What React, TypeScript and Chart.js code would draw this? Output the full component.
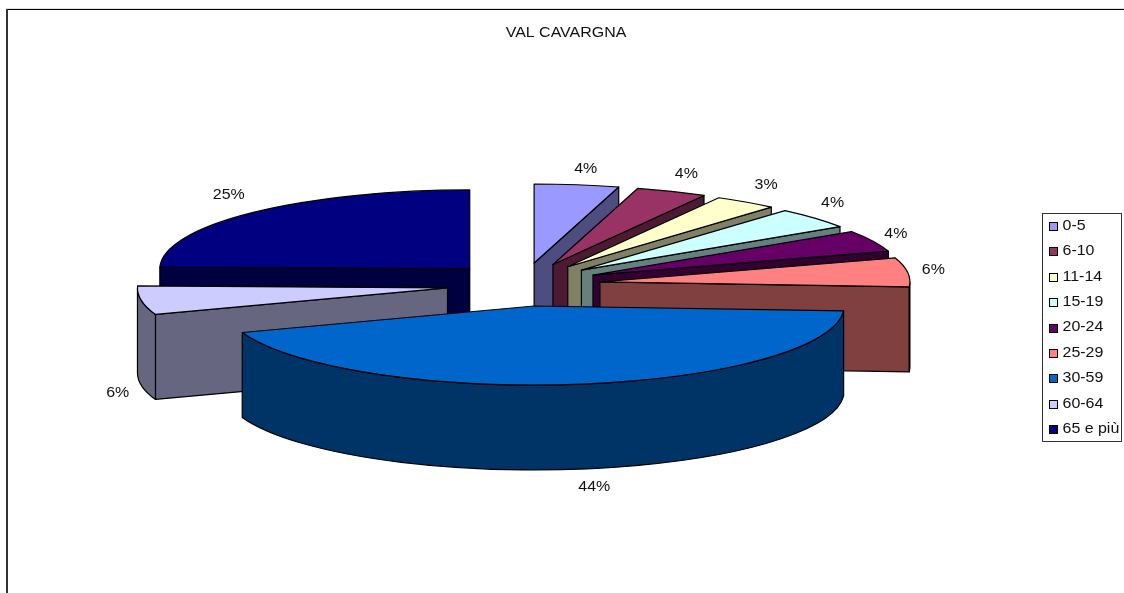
import React, { useEffect, useRef } from "react";
import { Chart, registerables } from "chart.js";

Chart.register(...registerables);

const TITLE = "VAL CAVARGNA";
const categories = ["0-5", "6-10", "11-14", "15-19", "20-24", "25-29", "30-59", "60-64", "65 e più"];
const shares = [4.4, 3.7, 3.3, 4.3, 4.4, 5.9, 43.55, 5.85, 24.6];
const colors = ["#9999FF", "#993366", "#FFFFCC", "#CCFFFF", "#660066", "#FF8080", "#0066CC", "#CCCCFF", "#000080"];

const FONT = '14px "Liberation Sans", Arial, sans-serif';
const STRETCH = 1.14;
const RADIUS = 310;
const TILT = 79 / 310;
const DEPTH = 85;
const EXPLODE_X = 77;
const EXPLODE_Y = 21.7;
// fine placement of each percentage label around its slice
const LABEL_NUDGE = [[5, 2], [4, -1], [4, -2], [-3, -3], [-2, 1], [-2, 0], [13, 0], [4, 5], [-5, -4]];

const halfShade = (hex: string) => {
  const n = parseInt(hex.slice(1), 16);
  const c = [(n >> 16) & 255, (n >> 8) & 255, n & 255].map((v) => Math.round(v / 2));
  return `rgb(${c[0]},${c[1]},${c[2]})`;
};

const stretchedText = (ctx: CanvasRenderingContext2D, text: string, x: number, y: number, align: CanvasTextAlign) => {
  ctx.save();
  ctx.font = FONT;
  ctx.fillStyle = "#111";
  ctx.textAlign = align;
  ctx.textBaseline = "middle";
  ctx.translate(x, y);
  ctx.scale(STRETCH, 1);
  ctx.fillText(text, 0, 0);
  ctx.restore();
};

const pie3d = {
  id: "pie3d",
  beforeDatasetsDraw(chart: any) {
    const ctx: CanvasRenderingContext2D = chart.ctx;
    const arcs = chart.getDatasetMeta(0).data as any[];
    const total = shares.reduce((s, v) => s + v, 0);

    const slices = arcs.map((arc, i) => {
      const mid = (arc.startAngle + arc.endAngle) / 2;
      const a = arc.outerRadius;
      return {
        i,
        mid,
        a,
        b: a * TILT,
        start: arc.startAngle,
        end: arc.endAngle,
        x: arc.x + Math.cos(mid) * EXPLODE_X,
        y: arc.y + Math.sin(mid) * EXPLODE_Y,
      };
    });

    const order = [...slices].sort((p, q) => p.y - q.y);
    ctx.save();
    ctx.lineWidth = 1.2;
    ctx.strokeStyle = "#000";
    ctx.lineJoin = "round";

    for (const s of order) {
      const dark = halfShade(colors[s.i]);
      const radial = (ang: number) => {
        const px = s.x + s.a * Math.cos(ang);
        const py = s.y + s.b * Math.sin(ang);
        ctx.beginPath();
        ctx.moveTo(s.x, s.y);
        ctx.lineTo(px, py);
        ctx.lineTo(px, py + DEPTH);
        ctx.lineTo(s.x, s.y + DEPTH);
        ctx.closePath();
        ctx.fillStyle = dark;
        ctx.fill();
        ctx.stroke();
      };
      if (Math.cos(s.start) < 0) radial(s.start);
      if (Math.cos(s.end) > 0) radial(s.end);

      // outer wall: only the part of the rim that faces the viewer
      const bands: [number, number][] = [];
      for (let k = -1; k <= 1; k++) {
        const lo = Math.max(s.start, k * 2 * Math.PI);
        const hi = Math.min(s.end, k * 2 * Math.PI + Math.PI);
        if (hi > lo) bands.push([lo, hi]);
      }
      for (const [lo, hi] of bands) {
        ctx.beginPath();
        ctx.ellipse(s.x, s.y, s.a, s.b, 0, lo, hi);
        ctx.ellipse(s.x, s.y + DEPTH, s.a, s.b, 0, hi, lo, true);
        ctx.closePath();
        ctx.fillStyle = dark;
        ctx.fill();
        ctx.stroke();
      }

      ctx.beginPath();
      ctx.moveTo(s.x, s.y);
      ctx.ellipse(s.x, s.y, s.a, s.b, 0, s.start, s.end);
      ctx.closePath();
      ctx.fillStyle = colors[s.i];
      ctx.fill();
      ctx.stroke();
    }
    ctx.restore();

    // percentage labels
    for (const s of slices) {
      const lx = s.x + (s.a + 28) * Math.cos(s.mid) + LABEL_NUDGE[s.i][0];
      const ly = s.y + (s.b + 18) * Math.sin(s.mid) + (Math.sin(s.mid) > 0 ? DEPTH : 0) + LABEL_NUDGE[s.i][1];
      stretchedText(ctx, `${Math.round((shares[s.i] / total) * 100)}%`, lx, ly, "center");
    }

    // chart frame
    ctx.save();
    ctx.fillStyle = "#ddd";
    ctx.fillRect(6, 8, 1118, 1);
    ctx.fillStyle = "#000";
    ctx.fillRect(6, 9, 1118, 1);
    ctx.fillStyle = "#333";
    ctx.fillRect(6, 9, 2, 584);
    ctx.restore();

    stretchedText(ctx, TITLE, 566, 33, "center");

    // legend
    ctx.save();
    ctx.strokeStyle = "#333";
    ctx.lineWidth = 1;
    ctx.strokeRect(1042.5, 213.5, 79, 228);
    categories.forEach((label, i) => {
      const cy = 226 + i * 25.4;
      const top = Math.round(cy - 4);
      ctx.fillStyle = colors[i];
      ctx.fillRect(1049.5, top + 0.5, 8, 8);
      ctx.strokeStyle = "#000";
      ctx.strokeRect(1049.5, top + 0.5, 8, 8);
      stretchedText(ctx, label, 1062.5, cy, "left");
    });
    ctx.restore();
    return false;
  },
};

export default function App() {
  const ref = useRef<HTMLCanvasElement>(null);
  useEffect(() => {
    const chart = new Chart(ref.current as HTMLCanvasElement, {
      type: "pie",
      data: {
        labels: categories,
        datasets: [{ data: shares, backgroundColor: colors, borderColor: "#000", borderWidth: 1 }],
      },
      options: {
        animation: false,
        responsive: false,
        radius: RADIUS,
        layout: { padding: { left: 0, top: 0, right: 77, bottom: 24 } },
        plugins: { legend: { display: false }, title: { display: false }, tooltip: { enabled: false } },
      } as any,
      plugins: [pie3d as any],
    });
    return () => chart.destroy();
  }, []);
  return (
    <div style={{ position: "fixed", left: 0, top: 0, width: 1124, height: 593, background: "#fff" }}>
      <canvas ref={ref} width={1124} height={593} style={{ display: "block" }} />
    </div>
  );
}
